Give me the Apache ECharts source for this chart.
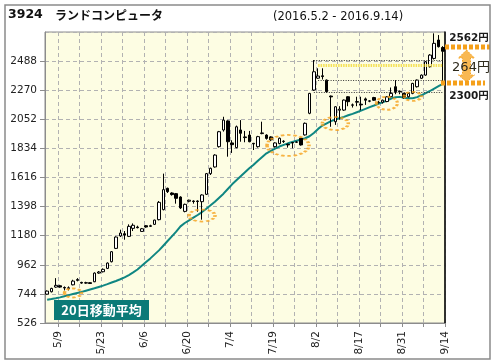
<!DOCTYPE html>
<html><head><meta charset="utf-8">
<script src="https://cdn.jsdelivr.net/npm/echarts@6/dist/echarts.min.js"></script>
<style>html,body{margin:0;padding:0;background:#fff;}#c{width:496px;height:364px;}</style>
</head><body><div id="c"></div>
<script>
// ---- data ----
const dates = ['5/2','5/6','5/9','5/10','5/11','5/12','5/13','5/16','5/17','5/18','5/19','5/20','5/23','5/24','5/25','5/26','5/27','5/30','5/31',
'6/1','6/2','6/3','6/6','6/7','6/8','6/9','6/10','6/13','6/14','6/15','6/16','6/17','6/20','6/21','6/22','6/23','6/24','6/27','6/28','6/29','6/30',
'7/1','7/4','7/5','7/6','7/7','7/8','7/11','7/12','7/13','7/14','7/15','7/19','7/20','7/21','7/22','7/25','7/26','7/27','7/28','7/29',
'8/1','8/2','8/3','8/4','8/5','8/8','8/9','8/10','8/12','8/15','8/16','8/17','8/18','8/19','8/22','8/23','8/24','8/25','8/26','8/29','8/30','8/31',
'9/1','9/2','9/5','9/6','9/7','9/8','9/9','9/12','9/13','9/14'];
const opens = [742,760,795,805,792,785,812,845,830,825,828,835,900,910,935,985,1085,1178,1195,1175,
1235,1245,1212,1255,1250,1265,1300,1375,1535,1500,1495,1470,1362,1438,1440,1440,1435,1490,1645,1695,
1847,1972,2040,1875,1840,1972,1920,1934,1872,1847,1945,1934,1920,1847,1870,1885,1865,1878,1880,1910,
1935,2097,2271,2360,2378,2346,2226,2034,2120,2121,2221,2160,2180,2165,2205,2190,2215,2180,2180,2185,
2222,2296,2262,2246,2221,2246,2296,2359,2383,2446,2508,2646,2590];
const closes = [765,785,808,795,788,790,840,852,825,828,822,900,908,928,975,1060,1170,1200,1185,1250,
1258,1240,1232,1245,1255,1297,1430,1525,1510,1488,1460,1388,1415,1446,1436,1436,1485,1645,1685,1784,
1959,2046,1884,1862,1996,1947,1915,1884,1868,1922,1950,1909,1898,1875,1910,1888,1860,1875,1882,1860,
2022,2246,2408,2376,2372,2259,2220,2146,2128,2196,2184,2158,2185,2160,2195,2188,2195,2178,2195,2220,
2246,2259,2258,2215,2246,2321,2346,2383,2483,2533,2621,2596,2562];
const lows = [738,755,790,790,770,770,808,838,820,820,818,832,895,905,930,980,1080,1170,1150,1170,
1215,1235,1208,1240,1245,1260,1295,1370,1500,1480,1420,1380,1355,1430,1420,1360,1300,1485,1635,1690,
1840,1960,1772,1800,1835,1884,1880,1880,1822,1840,1940,1900,1890,1840,1865,1875,1840,1835,1875,1855,
1930,2090,2265,2355,2350,2250,1996,2010,2050,2115,2150,2140,2150,2120,2160,2180,2190,2170,2170,2180,
2215,2240,2240,2205,2215,2240,2290,2355,2378,2440,2500,2590,2321];
const highs = [770,790,862,812,800,800,850,862,835,835,832,905,915,935,980,1065,1175,1225,1215,1265,
1272,1255,1238,1260,1262,1300,1440,1645,1540,1505,1500,1475,1420,1450,1445,1445,1490,1650,1690,1790,
1965,2071,2045,1895,2005,2046,1965,1965,1875,1928,2034,1940,1925,1880,1915,1895,1870,1882,1888,1912,
2028,2250,2496,2434,2434,2350,2230,2150,2150,2200,2225,2170,2221,2221,2215,2195,2220,2190,2200,2225,
2290,2346,2268,2250,2250,2325,2350,2388,2488,2540,2696,2683,2600];
const ma20 = [700,705,711,718,727,735,743,751,759,768,777,786,796,806,817,829,841,854,868,885,
905,927,955,983,1010,1040,1070,1105,1140,1175,1210,1250,1275,1295,1315,1335,1357,1382,1408,1435,
1465,1495,1530,1565,1595,1625,1655,1685,1712,1742,1770,1797,1815,1832,1848,1860,1872,1882,1892,1900,
1910,1925,1950,1980,2005,2022,2038,2050,2060,2070,2082,2093,2105,2117,2130,2143,2155,2168,2180,2193,
2208,2218,2220,2214,2210,2210,2218,2232,2248,2264,2282,2300,2318];
const yTickLabels = [526,744,962,1180,1398,1616,1834,2052,2270,2488,2706];
// resistance levels: [start date index, price]
const levelStart = [62, 63, 63, 62];
const levelValue = [2496, 2455, 2346, 2254];
// highlighted spots: [date index, price]
const spotIndex = [6, 36, 56, 67, 79, 85];
const spotValue = [751, 1331, 1856, 2020, 2172, 2224];
const maName = '20日移動平均';
const titleCode = '3924', titleName = 'ランドコンピュータ', period = '(2016.5.2 - 2016.9.14)';
const markHigh = '2562円', markDiff = '264円', markLow = '2300円';

// ---- styles ----
const spotSizes = [[17,9],[26,12],[42,21],[26,13],[21,13],[17,9]];
const levelStyles = [
  {color:'#333', width:1, type:[1,1.5]},
  {color:'#f3dc3c', width:3, type:[1.5,1], opacity:0.85},
  {color:'#333', width:1, type:[1,1.5]},
  {color:'#333', width:1, type:[1,1.5]}
];
const Y_BASE = yTickLabels[0];
const Y_STEP = yTickLabels[1] - yTickLabels[0];
const Y_SPAN = yTickLabels[yTickLabels.length-1] - Y_BASE;
const FONT = '"DejaVu Sans", Verdana, sans-serif';
const ORANGE = '#f5a01a';
const TEAL = '#0f8682';

const labelCats = [''].concat(dates); // boundaries between days
const candleData = dates.map((d,i)=>[opens[i]-Y_BASE, closes[i]-Y_BASE, lows[i]-Y_BASE, highs[i]-Y_BASE]);
const maData = ma20.map(v=>v-Y_BASE);
const markLines = levelValue.map((v,i)=>[
  {xAxis: levelStart[i], yAxis: v-Y_BASE, lineStyle: levelStyles[i]},
  {xAxis: dates.length-1, yAxis: v-Y_BASE}
]);
const spots = spotIndex.map((x,i)=>({value:[x, spotValue[i]-Y_BASE], symbolSize: spotSizes[i]}));

const chart = echarts.init(document.getElementById('c'), null, {renderer:'canvas'});
const dashed = {color:'#b2b2b2', type:[4,3], width:1};
chart.setOption({
  animation:false,
  backgroundColor:'#fff',
  grid:{left:45, top:32, width:400, height:291, show:true, backgroundColor:'#fdfde3', borderColor:'#8c8c8c', borderWidth:1},
  xAxis:[
    {type:'category', data:dates, boundaryGap:true, position:'bottom', show:false},
    {type:'category', data:labelCats, boundaryGap:false, position:'bottom',
     axisLine:{show:true, lineStyle:{color:'#8c8c8c', width:1}},
     axisTick:{show:true, length:4, interval:(k)=>k%5===3, lineStyle:{color:'#8c8c8c'}},
     axisLabel:{show:true, rotate:90, interval:(k)=>k%10===3, fontFamily:FONT, fontSize:10.5, color:'#222', margin:8},
     splitLine:{show:true, interval:(k)=>k%5===3, lineStyle:dashed}}
  ],
  yAxis:[
    {type:'value', min:0, max:Y_SPAN, interval:Y_STEP, position:'left',
     axisLine:{show:true, lineStyle:{color:'#8c8c8c'}},
     axisTick:{show:true, length:5, lineStyle:{color:'#8c8c8c'}},
     axisLabel:{fontFamily:FONT, fontSize:10.5, color:'#222', margin:8, showMaxLabel:false,
       formatter:(v)=>String(Math.round(v+Y_BASE))},
     splitLine:{show:true, lineStyle:dashed}},
    {type:'value', min:0, max:Y_SPAN, interval:Y_STEP, position:'right',
     axisLine:{show:true, lineStyle:{color:'#000', width:1.5}},
     axisTick:{show:false}, axisLabel:{show:false}, splitLine:{show:false}}
  ],
  series:[
    {type:'line', name:maName, data:maData, xAxisIndex:0, yAxisIndex:0, symbol:'none',
     lineStyle:{color:TEAL, width:2}, z:2, silent:true},
    {type:'candlestick', data:candleData, xAxisIndex:0, yAxisIndex:0, barWidth:3,
     itemStyle:{color:'#fff', color0:'#000', borderColor:'#000', borderColor0:'#000', borderWidth:1},
     z:3, silent:true,
     markLine:{silent:true, symbol:['none','none'], label:{show:false}, data:markLines, z:4}},
    {type:'scatter', data:spots, xAxisIndex:0, yAxisIndex:0,
     symbol:'path://M0,50 A50,50 0 1,1 100,50 A50,50 0 1,1 0,50 Z',
     itemStyle:{color:'rgba(0,0,0,0)', borderColor:ORANGE, borderWidth:2.5, borderType:[2.5,2]},
     z:5, silent:true}
  ],
  graphic:[
    {type:'rect', shape:{x:5,y:5,width:485,height:354}, style:{fill:'none', stroke:'#8a8a8a', lineWidth:1.5}, silent:true, z:100},
    {type:'text', style:{x:8, y:15, text:titleCode, font:'bold 12.5px '+FONT, fill:'#111', align:'left', verticalAlign:'middle', textAlign:'left', textVerticalAlign:'middle'}},
    {type:'text', style:{x:55, y:15, text:titleName, font:'bold 12px "Noto Sans CJK JP", sans-serif', fill:'#111', align:'left', verticalAlign:'middle', textAlign:'left', textVerticalAlign:'middle'}},
    {type:'text', style:{x:273, y:17, text:period, font:'11.5px '+FONT, fill:'#111', align:'left', verticalAlign:'middle', textAlign:'left', textVerticalAlign:'middle'}},
    {type:'rect', shape:{x:54,y:300,width:95,height:20}, style:{fill:'#0b7a77'}, z:50},
    {type:'text', style:{x:101.5, y:310.5, text:maName, font:'bold 13px "Noto Sans CJK JP", sans-serif', fill:'#fff', align:'center', verticalAlign:'middle', textAlign:'center', textVerticalAlign:'middle'}, z:51},
    // right annotation
    {type:'line', shape:{x1:445,y1:47,x2:490,y2:47}, style:{stroke:ORANGE, lineWidth:5, lineDash:[4,2]}, z:60},
    {type:'line', shape:{x1:441,y1:83,x2:485,y2:83}, style:{stroke:ORANGE, lineWidth:5, lineDash:[4,2]}, z:60},
    {type:'polygon', shape:{points:[[466.5,50],[474.5,58],[470.5,58],[470.5,75],[474.5,75],[466.5,82],[458.5,75],[462.5,75],[462.5,58],[458.5,58]]},
     style:{fill:'rgba(245,160,26,0.75)', stroke:ORANGE, lineWidth:1, lineDash:[1.5,1.5]}, z:60},
    {type:'text', style:{x:469, y:38.5, text:markHigh, font:'bold 10.5px '+FONT+', "Noto Sans CJK JP"', fill:'#1a1a1a', align:'center', verticalAlign:'middle', textAlign:'center', textVerticalAlign:'middle'}, z:61},
    {type:'text', style:{x:471, y:67.5, text:markDiff, font:'13px '+FONT+', "Noto Sans CJK JP"', fill:'#2e2a1c', align:'center', verticalAlign:'middle', textAlign:'center', textVerticalAlign:'middle'}, z:61},
    {type:'text', style:{x:469, y:96.5, text:markLow, font:'bold 10.5px '+FONT+', "Noto Sans CJK JP"', fill:'#1a1a1a', align:'center', verticalAlign:'middle', textAlign:'center', textVerticalAlign:'middle'}, z:61}
  ]
});
</script></body></html>
